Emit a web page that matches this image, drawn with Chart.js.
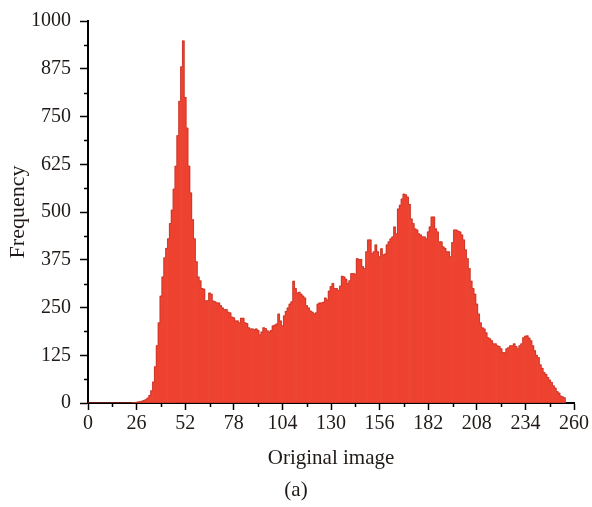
<!DOCTYPE html>
<html lang="en">
<head>
  <meta charset="UTF-8">
  <title>Histogram - Original image</title>
  <script src="https://cdn.jsdelivr.net/npm/chart.js"></script>
  <style>
    body {
      margin: 0;
      background: #fff;
    }
    #wrap {
      width: 592px;
      height: 507px;
    }
  </style>
</head>
<body>

<div id="wrap"><canvas id="histCvs" width="592" height="507"></canvas></div>

<script>
// pixel counts per gray level 0..255
const frequency = [
  0, 0, 0, 0, 0, 0, 0, 0, 0, 0,
  0, 0, 0, 0, 0, 0, 0, 0, 0, 0,
  0, 0, 0, 0, 1, 1, 2, 3, 4, 5,
  7, 9, 13, 20, 32, 55, 95, 150, 210, 280,
  330, 380, 405, 430, 470, 505, 560, 620, 700, 790,
  880, 948, 800, 720, 620, 550, 480, 430, 370, 330,
  320, 300, 298, 267, 268, 288, 285, 267, 265, 262,
  262, 255, 249, 245, 245, 238, 236, 225, 223, 215,
  215, 210, 222, 222, 210, 208, 197, 194, 194, 192,
  194, 190, 178, 186, 197, 195, 189, 186, 190, 202,
  204, 207, 233, 215, 202, 228, 240, 249, 259, 265,
  319, 300, 288, 290, 285, 280, 275, 255, 249, 241,
  238, 233, 236, 259, 262, 262, 264, 275, 270, 293,
  305, 313, 300, 300, 295, 306, 332, 330, 324, 313,
  320, 339, 339, 337, 378, 376, 376, 357, 352, 396,
  427, 427, 391, 396, 414, 396, 383, 404, 388, 390,
  414, 422, 430, 435, 461, 443, 508, 518, 534, 547,
  545, 539, 520, 482, 470, 456, 453, 443, 440, 435,
  435, 430, 448, 461, 487, 487, 456, 448, 422, 422,
  409, 405, 396, 396, 383, 420, 453, 453, 450, 448,
  440, 427, 401, 378, 352, 319, 300, 285, 259, 233,
  210, 197, 194, 184, 171, 168, 163, 155, 155, 150,
  148, 142, 132, 132, 142, 145, 150, 150, 155, 148,
  142, 150, 155, 171, 175, 176, 170, 163, 150, 137,
  125, 119, 100, 91, 80, 75, 67, 60, 54, 45,
  39, 30, 26, 18, 16, 14
];
const grayLevels = frequency.map((_, i) => i);

const xTicks = [0, 26, 52, 78, 104, 130, 156, 182, 208, 234, 260];
const yTicks = [0, 125, 250, 375, 500, 625, 750, 875, 1000];
const xMinor = [13, 39, 65, 91, 117, 143, 169, 195, 221, 247];
const yMinor = [62.5, 187.5, 312.5, 437.5, 562.5, 687.5, 812.5, 937.5];

const points = grayLevels.map((g, i) => ({ x: g, y: frequency[i] }));

const serif = "'Liberation Serif', 'Times New Roman', serif";
const ink = '#1f1a17';

// short ticks between the labelled ones, plus the panel letter
const extras = {
  id: 'extras',
  afterDraw(chart) {
    const { ctx, scales: { x, y } } = chart;
    ctx.save();
    ctx.strokeStyle = '#000';
    ctx.lineWidth = 1.5;
    ctx.beginPath();
    xMinor.forEach(v => {
      const px = Math.round(x.getPixelForValue(v)) + 0.5;
      ctx.moveTo(px, y.bottom);
      ctx.lineTo(px, y.bottom + 4);
    });
    yMinor.forEach(v => {
      const py = Math.round(y.getPixelForValue(v)) + 0.5;
      ctx.moveTo(x.left - 4, py);
      ctx.lineTo(x.left, py);
    });
    ctx.stroke();

    ctx.fillStyle = ink;
    ctx.font = '21px ' + serif;
    ctx.textAlign = 'center';
    ctx.textBaseline = 'middle';
    ctx.fillText('(a)', chart.width / 2, 490);
    ctx.restore();
  }
};

new Chart(document.getElementById('histCvs'), {
  type: 'bar',
  data: {
    datasets: [
      {
        // darker staircase edge along the bar tops
        type: 'line',
        data: points,
        stepped: 'middle',
        borderColor: 'rgba(176, 40, 30, 0.5)',
        segment: {
          borderColor: c => (c.p0.parsed.y === 0 && c.p1.parsed.y === 0) ? 'rgba(0,0,0,0)' : undefined
        },
        borderWidth: 1,
        pointRadius: 0,
        fill: false,
        order: 0
      },
      {
        data: points,
        backgroundColor: '#ee4230',
        borderWidth: 0,
        barPercentage: 1,
        categoryPercentage: 1,
        order: 1
      }
    ]
  },
  options: {
    responsive: false,
    animation: false,
    events: [],
    layout: { padding: { top: 17, right: 18, left: 0, bottom: 34.2 } },
    plugins: {
      legend: { display: false },
      tooltip: { enabled: false }
    },
    scales: {
      x: {
        type: 'linear',
        min: 0,
        max: 260,
        offset: false,
        z: 1,
        afterBuildTicks: s => { s.ticks = xTicks.map(v => ({ value: v })); },
        afterFit: s => { s.height = 69.8; },
        grid: {
          display: true,
          offset: false,
          drawOnChartArea: false,
          drawTicks: true,
          tickLength: 7,
          tickColor: '#000',
          tickWidth: 1.5
        },
        border: { display: true, color: '#000', width: 2 },
        ticks: {
          autoSkip: false,
          maxRotation: 0,
          padding: 2,
          color: ink,
          font: { family: serif, size: 20 },
          callback: v => String(v)
        },
        title: {
          display: true,
          text: 'Original image',
          color: ink,
          font: { family: serif, size: 21 },
          padding: { top: 0, bottom: 2 }
        }
      },
      y: {
        min: 0,
        max: 1000,
        z: 1,
        afterBuildTicks: s => { s.ticks = yTicks.map(v => ({ value: v })); },
        afterFit: s => { s.width = 88; },
        grid: {
          display: true,
          drawOnChartArea: false,
          drawTicks: true,
          tickLength: 8,
          tickColor: '#000',
          tickWidth: 1.5
        },
        border: { display: true, color: '#000', width: 2 },
        ticks: {
          padding: 9,
          color: ink,
          font: { family: serif, size: 20 },
          callback: v => String(v)
        },
        title: {
          display: true,
          text: 'Frequency',
          color: ink,
          font: { family: serif, size: 22 },
          padding: { top: 5, bottom: 0 }
        }
      }
    }
  },
  plugins: [extras]
});
</script>

</body>
</html>
